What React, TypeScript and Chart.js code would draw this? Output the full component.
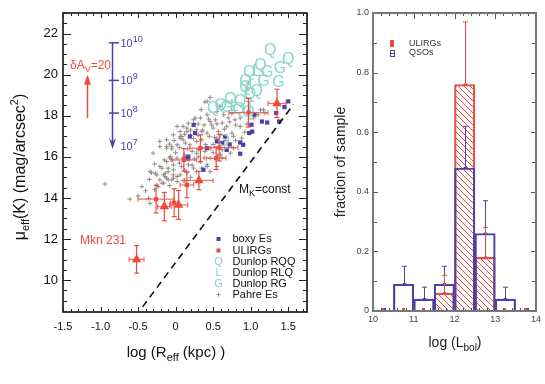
import React, { useEffect, useRef } from 'react';
import { Chart, registerables } from 'chart.js';

Chart.register(...registerables);

const FONT = '"Liberation Sans", Arial, Helvetica, sans-serif';
Chart.defaults.font.family = FONT;

const BLUE = '#4b41a6';
const RED = '#ef4a40';
const CYAN = '#86d5ce';
const GRAY = '#958a8a';

// ---------------- Left panel data ----------------
const leftXTicks = [-1.5, -1, -0.5, 0, 0.5, 1, 1.5];
const leftXTickLabels = ['-1.5', '-1.0', '-0.5', '0', '0.5', '1.0', '1.5'];
const leftYTicks = [10, 12, 14, 16, 18, 20, 22];

const pahreEs: [number, number][] = [
  [-0.94, 14.68], [-0.61, 13.94], [-0.5, 14.1], [-0.36, 13.98], [-0.34, 13.74],
  [-0.32, 15.23], [-0.21, 15.53], [-0.14, 15.2], [-0.12, 14.96], [-0.18, 14.72], [-0.03, 14.96], [0.06, 15.12],
  [-0.25, 14.63], [-0.21, 14.88], [-0.16, 14.72], [-0.23, 14.55], [-0.05, 14.88], [0.15, 15.28], [0.24, 15.45],
  [-0.34, 15.28], [-0.25, 15.12], [-0.3, 16.18], [-0.21, 16.75],
  [-0.12, 16.42], [-0.05, 16.39], [0.1, 16.83], [-0.04, 15.85], [-0.1, 15.45], [-0.03, 15.37], [-0.14, 15.04],
  [0.02, 15.04], [-0.1, 14.88], [0.02, 14.8], [0.28, 15.28], [0.35, 15.45], [0.42, 15.61], [0.46, 15.28], [0.55, 15.53],
  [0.46, 18.89], [0.42, 18.7], [0.26, 17.89], [0.33, 17.89], [0.42, 18.05], [0.1, 17.48], [0.02, 17.48], [0.15, 17.23],
  [0.06, 17.0], [-0.12, 16.83], [-0.05, 16.5], [0.77, 17.0], [0.86, 17.48], [0.86, 17.89], [1.04, 17.89], [0.97, 19.6],
  [0.95, 19.35], [0.59, 18.46], [0.97, 18.7], [1.17, 18.29], [0.44, 17.84], [0.53, 17.8], [0.64, 18.05], [0.39, 18.67],
  [0.46, 17.72], [0.24, 17.8], [0.17, 17.64], [0.15, 17.4], [0.06, 17.23], [-0.03, 17.07], [0.08, 16.99], [0.28, 17.32],
  [0.35, 17.23], [0.42, 17.16], [0.5, 17.4], [0.57, 17.23], [-0.12, 16.5], [0.02, 16.59], [0.13, 16.67], [0.19, 16.59],
  [0.28, 16.75], [0.35, 16.83], [0.22, 16.26], [0.28, 16.18], [0.39, 16.26], [0.46, 15.93], [-0.07, 16.01], [0.02, 15.93],
  [-0.12, 15.77], [-0.03, 15.61], [0.08, 15.53], [0.17, 15.61], [-0.18, 15.45], [-0.1, 15.28], [0.42, 15.53],
  [-0.27, 15.2], [-0.16, 15.12], [-0.03, 15.12], [-0.21, 16.5],
  [0.6, 17.05], [0.68, 17.48], [0.75, 17.16], [0.7, 16.67], [0.62, 16.34], [0.73, 16.18], [0.77, 16.42], [0.88, 16.91],
  [0.79, 17.8], [1.19, 18.13], [1.13, 18.29],
  [0.5, 16.6], [0.55, 16.9], [0.3, 16.0], [0.12, 16.1], [0.0, 16.2], [-0.08, 16.62], [0.2, 17.05], [0.48, 17.55],
  [0.62, 17.65], [0.7, 17.9], [0.38, 17.55], [0.12, 15.35], [0.6, 16.1], [0.5, 16.2], [0.25, 15.9], [0.62, 15.95], [0.56, 16.05],
  [-0.28, 15.65], [-0.15, 15.85], [-0.08, 15.95], [0.05, 15.7], [0.1, 15.95], [0.18, 15.85], [0.22, 15.6], [0.33, 15.75],
  [0.38, 15.95], [0.3, 16.35], [0.16, 16.4], [0.05, 16.45], [-0.02, 16.8], [0.06, 16.9], [0.24, 16.9], [0.4, 16.6],
  [0.45, 17.0], [0.52, 16.95], [0.3, 17.05], [0.12, 17.1], [0.2, 17.3], [0.3, 17.6], [0.36, 17.3], [0.55, 17.6],
  [0.65, 17.35], [0.72, 17.7], [0.8, 17.55], [0.66, 16.8], [0.8, 16.8], [0.92, 17.2], [0.95, 17.6], [1.1, 18.05],
  [0.75, 18.1], [0.55, 18.2], [0.34, 18.3], [-0.35, 14.9], [-0.28, 14.4], [-0.4, 14.35], [-0.45, 14.55], [-0.08, 14.6],
  [0.1, 14.85], [0.2, 15.0],
];

const boxyEs: [number, number][] = [
  [1.5, 18.7], [1.45, 18.42], [1.34, 18.13], [1.38, 17.72], [1.05, 18.05], [1.15, 17.72], [1.22, 17.67], [1.01, 17.56],
  [1.02, 17.23], [0.98, 17.16], [0.86, 16.7], [0.86, 16.15], [0.62, 16.67], [0.66, 16.99], [0.9, 16.59], [0.68, 16.34],
  [0.15, 15.93], [0.37, 15.37], [0.24, 17.56], [0.26, 17.16], [0.19, 16.99], [0.42, 16.42], [0.17, 16.01], [0.72, 16.6], [0.55, 16.75],
];

const dunlopRQQ: [number, number][] = [
  [1.26, 21.19], [1.5, 20.75], [1.13, 20.44], [0.98, 20.11], [0.93, 19.67], [0.93, 19.35], [1.08, 19.19], [0.99, 19.05],
  [0.86, 18.7], [0.73, 18.78], [0.5, 18.33], [0.84, 18.29], [0.97, 18.13], [0.64, 16.72], [0.6, 18.5],
];
const dunlopRLQ: [number, number][] = [[1.08, 20.16], [0.78, 18.45], [1.02, 18.35]];
const dunlopRG: [number, number][] = [[1.22, 20.11], [1.39, 20.3], [1.37, 19.63], [1.17, 19.67], [0.68, 18.38]];

// ULIRGs (squares): x, y, xerr, yerr
const ulirgX = [-0.26, -0.02, 0.15, 0.11, 0.33, 0.54, 0.58, 0.97];
const ulirgY = [13.94, 13.77, 14.63, 15.85, 16.42, 15.93, 16.45, 18.15];
const ulirgXErr = [0.24, 0.05, 0.09, 0.17, 0.14, 0.13, 0.25, 0.26];
const ulirgYErr = [0.67, 0.68, 0.62, 0.55, 0.65, 0.55, 0.65, 0.7];

// ULIRGs (triangles)
const triX = [-0.52, -0.15, 0.04, 0.31, 1.35];
const triY = [11.01, 13.58, 13.66, 14.85, 18.6];
const triXErr = [0.1, 0.09, 0.12, 0.19, 0.12];
const triYErr = [0.67, 0.69, 0.7, 0.45, 0.69];

const mkLineX = [-0.44, 1.57];
const mkLineY = [8.7, 18.55];

const massArrowX = -0.85;
const massTickY = [21.55, 19.72, 18.13, 16.54];
const massExp = ['10', '9', '8', '7'];
const massArrowTipY = 16.38;

const dustArrowX = -1.18;
const dustArrowFrom = 17.89;
const dustArrowTo = 20.0;

const leftLegendLabels = ['boxy Es', 'ULIRGs', 'Dunlop RQQ', 'Dunlop RLQ', 'Dunlop RG', 'Pahre Es'];

// ---------------- Right panel data ----------------
const binCenters = [10.25, 10.75, 11.25, 11.75, 12.25, 12.75, 13.25, 13.75];
const qsoFrac = [0, 0.09, 0.04, 0.09, 0.48, 0.26, 0.04, 0];
const qsoErr = [0, 0.06, 0.04, 0.06, 0.14, 0.11, 0.04, 0];
const ulirgFrac = [0, 0, 0, 0.06, 0.76, 0.18, 0, 0];
const ulirgErr = [0, 0, 0, 0.06, 0.21, 0.1, 0, 0];
const rightXTicks = [10, 11, 12, 13, 14];
const rightYTicks = [0, 0.2, 0.4, 0.6, 0.8, 1.0];
const rightYTickLabels = ['0', '0.2', '0.4', '0.6', '0.8', '1.0'];

// ---------------- helpers ----------------
type Seg = { t: string; size: number; dy: number };

function richWidth(ctx: CanvasRenderingContext2D, segs: Seg[]) {
  let w = 0;
  for (const s of segs) {
    ctx.font = `${s.size}px ${FONT}`;
    w += ctx.measureText(s.t).width;
  }
  return w;
}

function drawRich(ctx: CanvasRenderingContext2D, segs: Seg[], x: number, y: number, align: 'left' | 'center', color: string) {
  const w = richWidth(ctx, segs);
  let cx = align === 'center' ? x - w / 2 : x;
  ctx.fillStyle = color;
  ctx.textAlign = 'left';
  ctx.textBaseline = 'alphabetic';
  for (const s of segs) {
    ctx.font = `${s.size}px ${FONT}`;
    ctx.fillText(s.t, cx, y + s.dy);
    cx += ctx.measureText(s.t).width;
  }
}

function line(ctx: CanvasRenderingContext2D, x1: number, y1: number, x2: number, y2: number) {
  ctx.beginPath();
  ctx.moveTo(x1, y1);
  ctx.lineTo(x2, y2);
  ctx.stroke();
}

function isMult(v: number, step: number) {
  const r = v / step;
  return Math.abs(r - Math.round(r)) < 1e-6;
}

function framePlugin(o: any) {
  return {
    id: 'frameTicks',
    afterDatasetsDraw(chart: any) {
      const { ctx, chartArea: a, scales } = chart;
      const xs = scales.x;
      const ys = scales.y;
      ctx.save();
      ctx.lineWidth = 1;
      ctx.strokeStyle = o.tickColor;
      const nx = Math.round((o.xMax - o.xMin) / o.xStep);
      for (let i = 0; i <= nx; i++) {
        const v = o.xMin + i * o.xStep;
        const px = Math.round(xs.getPixelForValue(v)) + 0.5;
        const len = isMult(v, o.xMajor) ? o.xMajorLen : o.xMinorLen;
        line(ctx, px, a.bottom, px, a.bottom - len);
        line(ctx, px, a.top, px, a.top + len);
      }
      const ny = Math.round((o.yMax - o.yMin) / o.yStep);
      for (let i = 0; i <= ny; i++) {
        const v = o.yMin + i * o.yStep;
        const py = Math.round(ys.getPixelForValue(v)) + 0.5;
        const len = isMult(v, o.yMajor) ? o.yMajorLen : o.yMinorLen;
        line(ctx, a.left, py, a.left + len, py);
        line(ctx, a.right, py, a.right - len, py);
      }
      ctx.strokeStyle = o.frameColor;
      ctx.lineWidth = o.frameWidth;
      ctx.strokeRect(a.left, a.top, a.right - a.left, a.bottom - a.top);
      ctx.restore();
    },
  };
}

const errorBarPlugin = {
  id: 'xyErrorBars',
  beforeDatasetDraw(chart: any, args: any) {
    const ds = chart.data.datasets[args.index];
    if (!ds.errX && !ds.errY) return;
    const ctx = chart.ctx;
    const xs = chart.scales.x;
    const ys = chart.scales.y;
    ctx.save();
    ctx.lineWidth = 1.2;
    args.meta.data.forEach((el: any, i: number) => {
      const d = ds.data[i];
      if (ds.errY) {
        const e = ds.errY[i];
        const y1 = ys.getPixelForValue(d.y + e);
        const y2 = ys.getPixelForValue(d.y - e);
        ctx.strokeStyle = RED;
        line(ctx, el.x, y1, el.x, y2);
        line(ctx, el.x - 2.5, y1, el.x + 2.5, y1);
        line(ctx, el.x - 2.5, y2, el.x + 2.5, y2);
      }
      if (ds.errX) {
        const e = ds.errX[i];
        const x1 = xs.getPixelForValue(d.x - e);
        const x2 = xs.getPixelForValue(d.x + e);
        ctx.strokeStyle = 'rgba(239,74,64,0.8)';
        line(ctx, x1, el.y, x2, el.y);
        line(ctx, x1, el.y - 2.5, x1, el.y + 2.5);
        line(ctx, x2, el.y - 2.5, x2, el.y + 2.5);
      }
    });
    ctx.restore();
  },
};

const letterPlugin = {
  id: 'letters',
  afterDatasetDraw(chart: any, args: any) {
    const ds = chart.data.datasets[args.index];
    if (!ds.letter) return;
    const ctx = chart.ctx;
    ctx.save();
    ctx.beginPath();
    const a = chart.chartArea;
    ctx.rect(a.left, a.top, a.right - a.left, a.bottom - a.top);
    ctx.clip();
    ctx.font = `16px ${FONT}`;
    ctx.fillStyle = CYAN;
    ctx.textAlign = 'center';
    ctx.textBaseline = 'middle';
    args.meta.data.forEach((el: any) => ctx.fillText(ds.letter, el.x, el.y));
    ctx.restore();
  },
};

const leftAnnotations = {
  id: 'leftAnnotations',
  afterDraw(chart: any) {
    const ctx = chart.ctx;
    const xs = chart.scales.x;
    const ys = chart.scales.y;
    ctx.save();

    // mass arrow (blue)
    const mx = Math.round(xs.getPixelForValue(massArrowX)) + 0.5;
    const mTop = ys.getPixelForValue(massTickY[0]);
    const mTip = ys.getPixelForValue(massArrowTipY);
    ctx.strokeStyle = BLUE;
    ctx.fillStyle = BLUE;
    ctx.lineWidth = 1.5;
    line(ctx, mx, mTop, mx, mTip - 4);
    ctx.beginPath();
    ctx.moveTo(mx, mTip);
    ctx.lineTo(mx - 3.5, mTip - 11);
    ctx.lineTo(mx, mTip - 7);
    ctx.lineTo(mx + 3.5, mTip - 11);
    ctx.closePath();
    ctx.fill();
    massTickY.forEach((v, i) => {
      const py = ys.getPixelForValue(v);
      if (i < 3) line(ctx, mx - 3.5, py, mx + 6.5, py);
      drawRich(ctx, [
        { t: '10', size: 11, dy: 0 },
        { t: massExp[i], size: 9, dy: -5 },
      ], mx + 8, py + 4, 'left', BLUE);
    });

    // dust arrow (red)
    const dx = Math.round(xs.getPixelForValue(dustArrowX)) + 0.5;
    const dFrom = ys.getPixelForValue(dustArrowFrom);
    const dTo = ys.getPixelForValue(dustArrowTo);
    ctx.strokeStyle = RED;
    ctx.fillStyle = RED;
    ctx.lineWidth = 1.5;
    line(ctx, dx, dFrom, dx, dTo + 6);
    ctx.beginPath();
    ctx.moveTo(dx, dTo);
    ctx.lineTo(dx - 3.5, dTo + 10);
    ctx.lineTo(dx + 3.5, dTo + 10);
    ctx.closePath();
    ctx.fill();
    drawRich(ctx, [
      { t: 'δA', size: 12, dy: 0 },
      { t: 'V', size: 9, dy: 3 },
      { t: '=20', size: 12, dy: 0 },
    ], dx + 3, dTo - 6, 'center', RED);

    // Mkn 231
    drawRich(ctx, [{ t: 'Mkn 231', size: 12, dy: 0 }], 80, 243.5, 'left', RED);

    // M_K = const
    drawRich(ctx, [
      { t: 'M', size: 12, dy: 0 },
      { t: 'K', size: 9, dy: 3 },
      { t: '=const', size: 12, dy: 0 },
    ], 239, 192.5, 'left', '#111');

    // legend
    const rows = [239, 250.5, 262, 273, 284, 294.5];
    const mxL = 218.5;
    const tx = 232.5;
    ctx.textAlign = 'left';
    ctx.textBaseline = 'middle';
    rows.forEach((ry, i) => {
      if (i === 0 || i === 1) {
        ctx.fillStyle = i === 0 ? BLUE : RED;
        ctx.fillRect(mxL - 2, ry - 2, 4, 4);
      } else if (i >= 2 && i <= 4) {
        ctx.font = `11px ${FONT}`;
        ctx.fillStyle = CYAN;
        ctx.textAlign = 'center';
        ctx.fillText(['Q', 'L', 'G'][i - 2], mxL, ry);
        ctx.textAlign = 'left';
      } else {
        ctx.strokeStyle = GRAY;
        ctx.lineWidth = 1;
        line(ctx, mxL - 2, ry, mxL + 2, ry);
        line(ctx, mxL, ry - 2, mxL, ry + 2);
      }
      ctx.font = `11px ${FONT}`;
      ctx.fillStyle = '#111';
      ctx.fillText(leftLegendLabels[i], tx, ry);
    });

    // axis titles
    drawRich(ctx, [
      { t: 'log (R', size: 15, dy: 0 },
      { t: 'eff', size: 11, dy: 4 },
      { t: ' (kpc) )', size: 15, dy: 0 },
    ], 176, 357, 'center', '#111');

    ctx.translate(25, 167);
    ctx.rotate(-Math.PI / 2);
    drawRich(ctx, [
      { t: 'μ', size: 16, dy: 0 },
      { t: 'eff', size: 11, dy: 4 },
      { t: '(K) (mag/arcsec', size: 16, dy: 0 },
      { t: '2', size: 11, dy: -7 },
      { t: ')', size: 16, dy: 0 },
    ], 0, 0, 'center', '#111');
    ctx.restore();
  },
};

const histErrorPlugin = {
  id: 'histErrors',
  afterDatasetsDraw(chart: any) {
    const ctx = chart.ctx;
    const ys = chart.scales.y;
    ctx.save();
    chart.data.datasets.forEach((ds: any, di: number) => {
      const meta = chart.getDatasetMeta(di);
      ctx.strokeStyle = ds.borderColor;
      ctx.fillStyle = ds.borderColor;
      ctx.lineWidth = 1;
      meta.data.forEach((el: any, i: number) => {
        const v = ds.data[i].y;
        const e = ds.errUp[i];
        const x = Math.round(el.x) + 0.5;
        const p0 = ys.getPixelForValue(v);
        if (e > 0) {
          const p1 = ys.getPixelForValue(v + e);
          line(ctx, x, p0, x, p1);
          line(ctx, x - 2.5, p1, x + 2.5, p1);
          line(ctx, x - 2, p0, x + 2, p0);
          ctx.fillRect(x - 1.5, p0 - 1, 3, 2);
        } else {
          ctx.fillRect(x - 1.5 + (di === 0 ? 1 : -1), p0 - 3, 3, 3);
        }
      });
    });
    ctx.restore();
  },
};

const rightAnnotations = {
  id: 'rightAnnotations',
  afterDraw(chart: any) {
    const ctx = chart.ctx;
    ctx.save();
    // legend
    ctx.fillStyle = RED;
    ctx.fillRect(60, 40, 4, 7);
    ctx.strokeStyle = BLUE;
    ctx.lineWidth = 1;
    ctx.strokeRect(60.5, 50.5, 4, 6);
    line(ctx, 60.5, 53.5, 64.5, 53.5);
    ctx.font = `9px ${FONT}`;
    ctx.fillStyle = '#333';
    ctx.textAlign = 'left';
    ctx.textBaseline = 'middle';
    ctx.fillText('ULIRGs', 79, 43.5);
    ctx.fillText('QSOs', 79, 53);

    // axis titles
    drawRich(ctx, [
      { t: 'log (L', size: 14, dy: 0 },
      { t: 'bol', size: 10, dy: 4 },
      { t: ')', size: 14, dy: 0 },
    ], 125, 347, 'center', '#222');
    ctx.translate(15, 162);
    ctx.rotate(-Math.PI / 2);
    drawRich(ctx, [{ t: 'fraction of sample', size: 14, dy: 0 }], 0, 0, 'center', '#222');
    ctx.restore();
  },
};

function makeHatch(): CanvasPattern | string {
  const c = document.createElement('canvas');
  const s = 6;
  c.width = s;
  c.height = s;
  const g = c.getContext('2d');
  if (!g) return 'rgba(0,0,0,0)';
  g.strokeStyle = RED;
  g.lineWidth = 1;
  for (let k = -1; k <= 1; k++) {
    g.beginPath();
    g.moveTo(0, k * s);
    g.lineTo(s, s + k * s);
    g.stroke();
  }
  const p = g.createPattern(c, 'repeat');
  return p || 'rgba(0,0,0,0)';
}

function LeftChart() {
  const ref = useRef<HTMLCanvasElement>(null);
  useEffect(() => {
    const chart = new Chart(ref.current as HTMLCanvasElement, {
      type: 'scatter',
      data: {
        datasets: [
          {
            label: 'M_K=const',
            data: mkLineX.map((x, i) => ({ x, y: mkLineY[i] })),
            showLine: true,
            borderColor: '#111',
            borderWidth: 1.6,
            borderDash: [7, 5],
            pointRadius: 0,
            order: 0,
          } as any,
          {
            label: leftLegendLabels[5],
            data: pahreEs.map(([x, y]) => ({ x, y })),
            pointStyle: 'cross',
            pointRadius: 2.3,
            borderColor: GRAY,
            backgroundColor: GRAY,
            borderWidth: 1,
            order: 9,
          },
          {
            label: leftLegendLabels[0],
            data: boxyEs.map(([x, y]) => ({ x, y })),
            pointStyle: 'rect',
            pointRadius: 3,
            backgroundColor: BLUE,
            borderWidth: 0,
            order: 8,
          },
          { label: leftLegendLabels[2], letter: 'Q', data: dunlopRQQ.map(([x, y]) => ({ x, y })), pointRadius: 0, order: 7 } as any,
          { label: leftLegendLabels[3], letter: 'L', data: dunlopRLQ.map(([x, y]) => ({ x, y })), pointRadius: 0, order: 6 } as any,
          { label: leftLegendLabels[4], letter: 'G', data: dunlopRG.map(([x, y]) => ({ x, y })), pointRadius: 0, order: 5 } as any,
          {
            label: leftLegendLabels[1],
            data: ulirgX.map((x, i) => ({ x, y: ulirgY[i] })),
            errX: ulirgXErr,
            errY: ulirgYErr,
            pointStyle: 'rect',
            pointRadius: 3,
            backgroundColor: RED,
            borderWidth: 0,
            order: 2,
          } as any,
          {
            label: 'ULIRGs (triangles)',
            data: triX.map((x, i) => ({ x, y: triY[i] })),
            errX: triXErr,
            errY: triYErr,
            pointStyle: 'triangle',
            pointRadius: 5.5,
            backgroundColor: RED,
            borderColor: RED,
            borderWidth: 0,
            order: 1,
          } as any,
        ],
      },
      options: {
        responsive: false,
        animation: false,
        layout: { padding: { left: 0, right: 23, top: 13, bottom: 0 } },
        plugins: { legend: { display: false }, tooltip: { enabled: false } },
        scales: {
          x: {
            type: 'linear',
            min: -1.5,
            max: 1.75,
            grid: { display: false, drawTicks: false },
            border: { display: false },
            afterBuildTicks: (s: any) => { s.ticks = leftXTicks.map((v) => ({ value: v })); },
            afterFit: (s: any) => { s.height = 72; },
            ticks: {
              autoSkip: false,
              maxRotation: 0,
              padding: 8,
              color: '#111',
              font: { size: 11, family: FONT },
              callback: (v: any) => leftXTickLabels[leftXTicks.indexOf(Number(v))] ?? '',
            },
          },
          y: {
            type: 'linear',
            min: 8.45,
            max: 23,
            grid: { display: false, drawTicks: false },
            border: { display: false },
            afterBuildTicks: (s: any) => { s.ticks = leftYTicks.map((v) => ({ value: v })); },
            afterFit: (s: any) => { s.width = 63; },
            ticks: {
              autoSkip: false,
              padding: 5,
              color: '#111',
              font: { size: 13, family: FONT },
              callback: (v: any) => String(v),
            },
          },
        },
      } as any,
      plugins: [
        errorBarPlugin,
        letterPlugin,
        framePlugin({
          xMin: -1.5, xMax: 1.7, xStep: 0.1, xMajor: 0.5, xMajorLen: 5, xMinorLen: 3,
          yMin: 8.5, yMax: 23, yStep: 0.5, yMajor: 2, yMajorLen: 8, yMinorLen: 4,
          tickColor: '#222', frameColor: '#2a2a2a', frameWidth: 1.8,
        }),
        leftAnnotations,
      ],
    });
    return () => chart.destroy();
  }, []);
  return (
    <canvas
      ref={ref}
      width={330}
      height={384}
      style={{ position: 'absolute', left: 0, top: 0, width: 330, height: 384 }}
    />
  );
}

function RightChart() {
  const ref = useRef<HTMLCanvasElement>(null);
  useEffect(() => {
    const hatch = makeHatch();
    const chart = new Chart(ref.current as HTMLCanvasElement, {
      type: 'bar',
      data: {
        datasets: [
          {
            label: 'QSOs',
            data: binCenters.map((x, i) => ({ x, y: qsoFrac[i] })),
            errUp: qsoErr,
            backgroundColor: 'rgba(255,255,255,0)',
            borderColor: BLUE,
            borderWidth: 1.5,
            grouped: false,
            barPercentage: 1,
            categoryPercentage: 1,
            order: 0,
          } as any,
          {
            label: 'ULIRGs',
            data: binCenters.map((x, i) => ({ x, y: ulirgFrac[i] })),
            errUp: ulirgErr,
            backgroundColor: hatch,
            borderColor: RED,
            borderWidth: 1.5,
            grouped: false,
            barPercentage: 1,
            categoryPercentage: 1,
            order: 1,
          } as any,
        ],
      },
      options: {
        responsive: false,
        animation: false,
        layout: { padding: { left: 0, right: 9, top: 13, bottom: 0 } },
        plugins: { legend: { display: false }, tooltip: { enabled: false } },
        scales: {
          x: {
            type: 'linear',
            min: 10,
            max: 14,
            offset: false,
            grid: { display: false, drawTicks: false, offset: false },
            border: { display: false },
            afterBuildTicks: (s: any) => { s.ticks = rightXTicks.map((v) => ({ value: v })); },
            afterFit: (s: any) => { s.height = 73; },
            ticks: { autoSkip: false, maxRotation: 0, padding: 3, color: '#444', font: { size: 9, family: FONT } },
          },
          y: {
            type: 'linear',
            min: 0,
            max: 1,
            grid: { display: false, drawTicks: false },
            border: { display: false },
            afterBuildTicks: (s: any) => { s.ticks = rightYTicks.map((v) => ({ value: v })); },
            afterFit: (s: any) => { s.width = 43; },
            ticks: {
              autoSkip: false,
              padding: 4,
              color: '#444',
              font: { size: 9, family: FONT },
              callback: (v: any) => rightYTickLabels[rightYTicks.indexOf(Number(v))] ?? '',
            },
          },
        },
      } as any,
      plugins: [
        histErrorPlugin,
        framePlugin({
          xMin: 10, xMax: 14, xStep: 0.2, xMajor: 1, xMajorLen: 6, xMinorLen: 3,
          yMin: 0, yMax: 1, yStep: 0.1, yMajor: 0.2, yMajorLen: 5, yMinorLen: 4,
          tickColor: '#555', frameColor: '#777', frameWidth: 2,
        }),
        rightAnnotations,
      ],
    });
    return () => chart.destroy();
  }, []);
  return (
    <canvas
      ref={ref}
      width={215}
      height={384}
      style={{ position: 'absolute', left: 330, top: 0, width: 215, height: 384 }}
    />
  );
}

export default function App() {
  return (
    <div style={{ position: 'fixed', left: 0, top: 0, width: 545, height: 384, background: '#fff', overflow: 'hidden' }}>
      <LeftChart />
      <RightChart />
    </div>
  );
}
